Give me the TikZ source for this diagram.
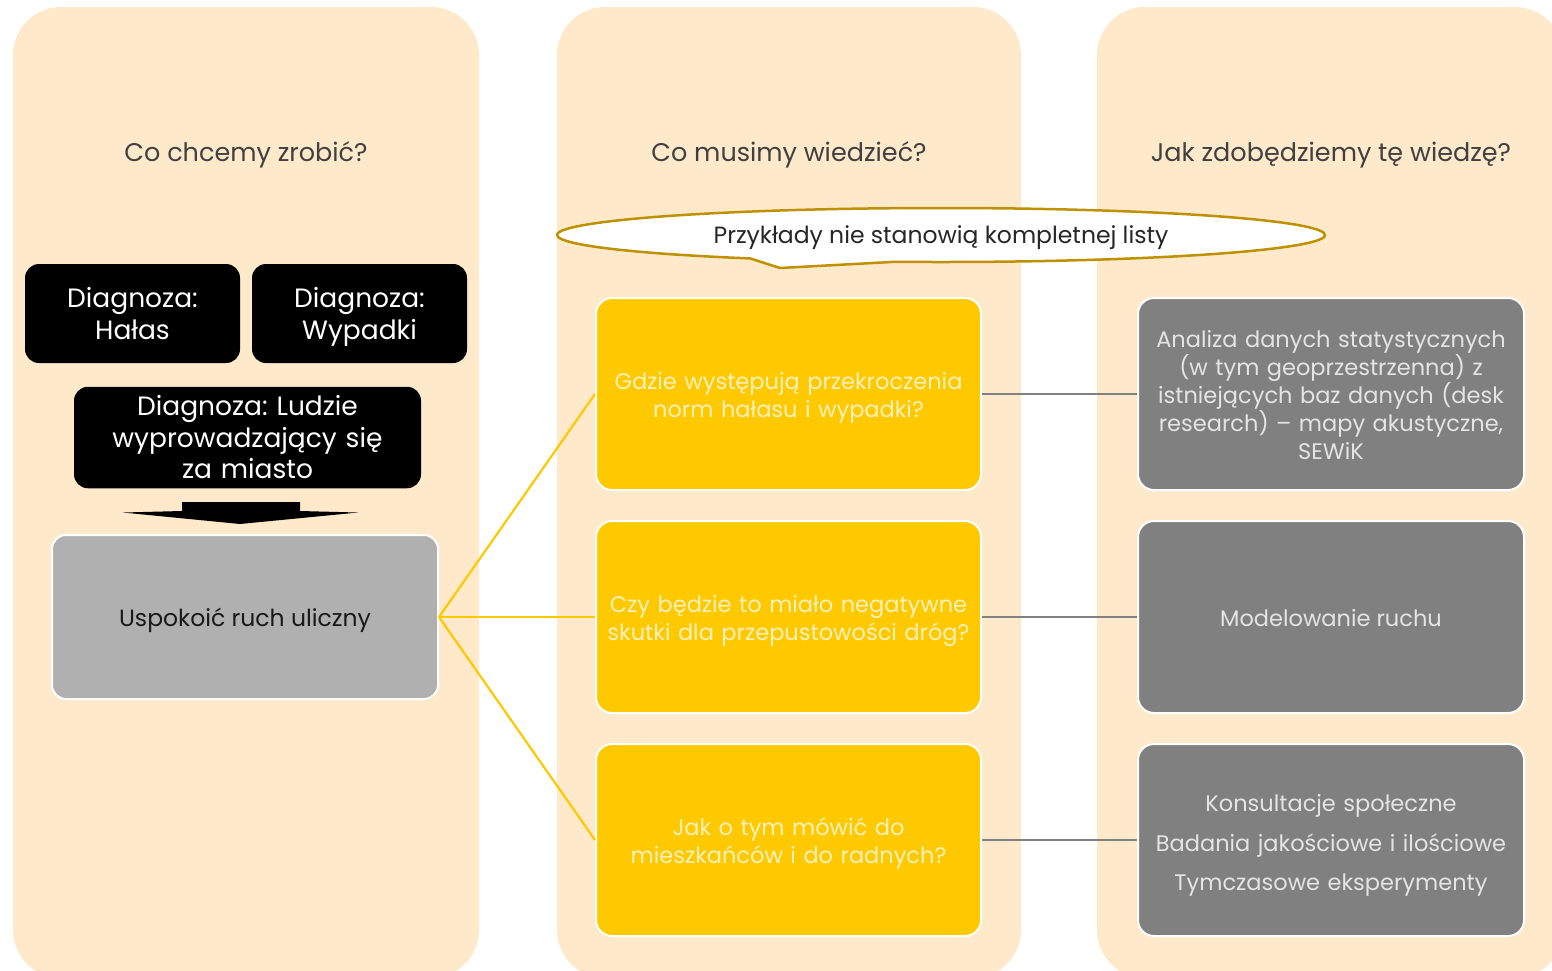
\documentclass[tikz,border=0pt]{standalone}
\usepackage{fontspec}
\setmainfont{Poppins}
\usetikzlibrary{calc}
\frenchspacing
\definecolor{panelbg}{HTML}{FEE9CB}
\definecolor{ybox}{HTML}{FFC900}
\definecolor{ytext}{HTML}{FFF1BE}
\definecolor{gbox}{HTML}{808080}
\definecolor{gtext}{HTML}{E4E4E4}
\definecolor{lgbox}{HTML}{B0B0B0}
\definecolor{headc}{HTML}{404040}
\definecolor{gold}{HTML}{BF9000}
\definecolor{yline}{HTML}{FFC800}
\newcommand{\mytopstrut}{\rule{0pt}{\dimexpr0.7\baselineskip+7pt\relax}}
\newcommand{\mybotstrut}{\rule[-0.3\baselineskip]{0pt}{0.3\baselineskip}}
\tikzset{
  struts/.style={execute at begin node=\frenchspacing\mytopstrut, execute at end node=\mybotstrut},
  panel/.style={fill=panelbg, rounded corners=48pt},
  heading/.style={text=headc, font=\fontsize{25.5}{30}\selectfont},
  diagbox/.style={fill=black, rounded corners=14pt, text=white, align=center,
     font=\fontsize{26.5}{31.5}\selectfont, inner sep=0pt, struts},
  mainbox/.style={fill=lgbox, draw=white, line width=2pt, rounded corners=14pt,
     minimum width=386pt, minimum height=164pt, text=black!90, inner sep=0pt,
     font=\fontsize{23.5}{28}\selectfont, struts},
  qbox/.style={fill=ybox, draw=white, line width=2pt, rounded corners=16pt,
     minimum width=385pt, minimum height=192pt, text=ytext, align=center,
     font=\fontsize{22.5}{28}\selectfont, inner sep=0pt, struts},
  mbox/.style={fill=gbox, draw=white, line width=2pt, rounded corners=16pt,
     minimum width=386pt, minimum height=192pt, text=gtext, align=center,
     font=\fontsize{22.5}{28}\selectfont, inner sep=0pt, struts},
  yconn/.style={draw=yline, line width=2.2pt},
  gconn/.style={draw=gbox, line width=2pt},
}
\begin{document}
\begin{tikzpicture}[x=1pt, y=-1pt]
\useasboundingbox (0,0) rectangle (1552,970);
\begin{scope}
\clip (0,0) rectangle (1552,970);
\fill[panel] (13,7) rectangle (479,978);
\fill[panel] (557,7) rectangle (1021,978);
\fill[panel] (1097,7) rectangle (1563,978);
\end{scope}

\node[heading] (h1) at (246,155) {Co chcemy zrobić?};
\node[heading] (h2) at (789,155) {Co musimy wiedzieć?};
\node[heading] (h3) at (1331,155) {Jak zdobędziemy tę wiedzę?};

% callout
\filldraw[fill=white, draw=gold, line width=2.5pt, line join=round]
  (941,235) ++(119.8:384 and 27) arc[start angle=119.8, end angle=456.9, x radius=384, y radius=27]
  -- (780,268) -- cycle;
\node[text=black!85, font=\fontsize{23.5}{28}\selectfont] (callout) at (941,238) {Przykłady nie stanowią kompletnej listy};

% diagnoses
\node[diagbox, text width=210pt, minimum width=215pt, minimum height=99pt] (halas) at (132.5,313.5) {Diagnoza:\\Hałas};
\node[diagbox, text width=210pt, minimum width=215pt, minimum height=99pt] (wypadki) at (359.5,313.5) {Diagnoza:\\Wypadki};
\node[diagbox, text width=340pt, minimum width=347pt, minimum height=99pt] (ludzie) at (247.5,437.5) {Diagnoza: Ludzie\\wyprowadzający się\\za miasto};

% flat arrow
\fill[black] (182,502) -- (300,502) -- (300,511) -- (358,512.5) -- (240,524) -- (123,512.5) -- (182,511) -- cycle;

\node[mainbox] (uspokoic) at (245,617) {Uspokoić ruch uliczny};

\node[qbox, text width=380pt] (q1) at (788.5,394) {Gdzie występują przekroczenia\\norm hałasu i wypadki?};
\node[qbox, text width=380pt] (q2) at (788.5,617) {Czy będzie to miało negatywne\\skutki dla przepustowości dróg?};
\node[qbox, text width=380pt] (q3) at (788.5,840) {Jak o tym mówić do\\mieszkańców i do radnych?};

\node[mbox, text width=380pt] (m1) at (1331,394) {Analiza danych statystycznych\\(w tym geoprzestrzenna) z\\istniejących baz danych (desk\\research) – mapy akustyczne,\\SEWiK};
\node[mbox] (m2) at (1331,617) {Modelowanie ruchu};
\node[mbox, text width=380pt, font=\fontsize{22.5}{39.5}\selectfont] (m3) at (1331,840) {Konsultacje społeczne\\Badania jakościowe i ilościowe\\Tymczasowe eksperymenty};

\draw[yconn] (uspokoic.east) -- (q1.west);
\draw[yconn] (uspokoic.east) -- (q2.west);
\draw[yconn] (uspokoic.east) -- (q3.west);
\draw[gconn] (q1.east) -- (m1.west);
\draw[gconn] (q2.east) -- (m2.west);
\draw[gconn] (q3.east) -- (m3.west);
\end{tikzpicture}
\end{document}
